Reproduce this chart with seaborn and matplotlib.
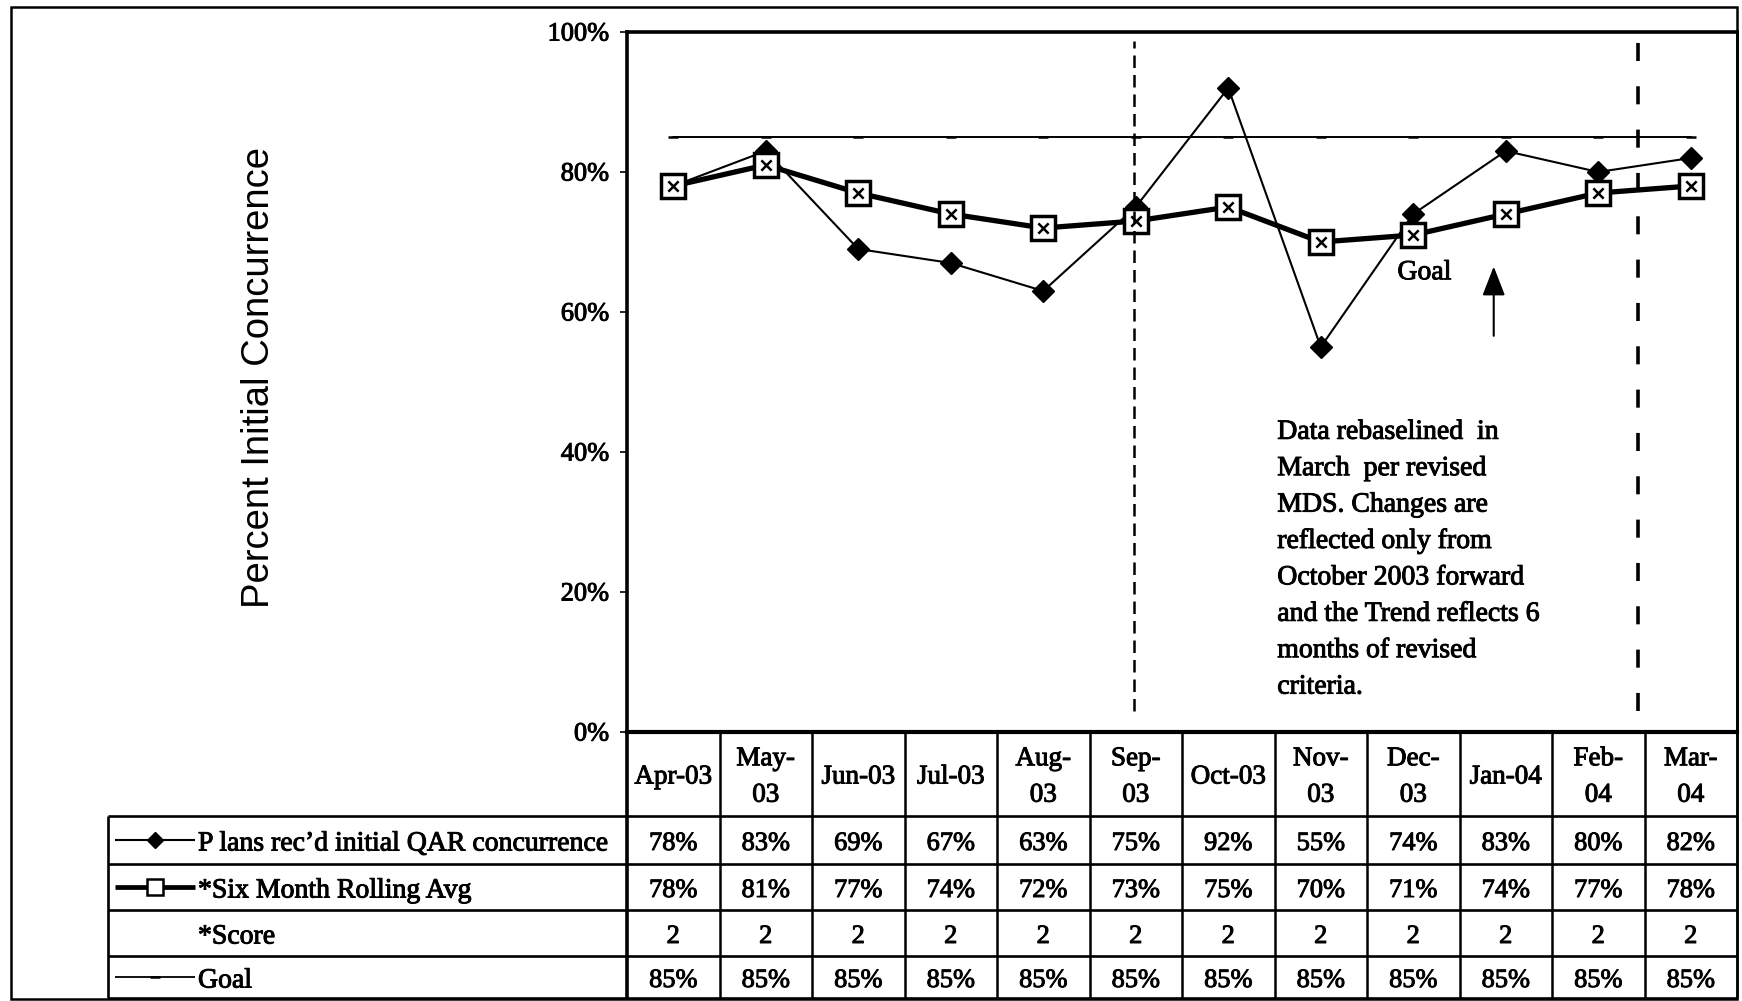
import matplotlib
matplotlib.use("Agg")
import matplotlib.pyplot as plt
from matplotlib.patches import Rectangle, FancyArrowPatch
from matplotlib import patheffects
import seaborn as sns
import pandas as pd

# ---- data -------------------------------------------------------------
months = ["Apr-03", "May-03", "Jun-03", "Jul-03", "Aug-03", "Sep-03",
          "Oct-03", "Nov-03", "Dec-03", "Jan-04", "Feb-04", "Mar-04"]
month_headers = ["Apr-03", "May-\n03", "Jun-03", "Jul-03", "Aug-\n03", "Sep-\n03",
                 "Oct-03", "Nov-\n03", "Dec-\n03", "Jan-04", "Feb-\n04", "Mar-\n04"]
plans_concurrence = [78, 83, 69, 67, 63, 75, 92, 55, 74, 83, 80, 82]
rolling_avg = [78, 81, 77, 74, 72, 73, 75, 70, 71, 74, 77, 78]
score = [2, 2, 2, 2, 2, 2, 2, 2, 2, 2, 2, 2]
goal = [85, 85, 85, 85, 85, 85, 85, 85, 85, 85, 85, 85]
y_ticks = [0, 20, 40, 60, 80, 100]
series_names = ["P lans rec\u2019d initial QAR concurrence", "*Six Month Rolling Avg",
                "*Score", "Goal"]
y_title = "Percent Initial Concurrence"
note_text = ("Data rebaselined  in\nMarch  per revised\nMDS. Changes are\n"
             "reflected only from\nOctober 2003 forward\nand the Trend reflects 6\n"
             "months of revised\ncriteria.")

# ---- style ------------------------------------------------------------
sns.set_theme(style="white")
plt.rcParams["font.family"] = ["Liberation Serif", "DejaVu Serif"]
plt.rcParams["axes.edgecolor"] = "black"
plt.rcParams["text.color"] = "black"
plt.rcParams["ytick.color"] = "black"

W, H = 1742, 1001
fig = plt.figure(figsize=(W / 100, H / 100), dpi=100)
fig.patch.set_facecolor("white")


def fx(px):
    return px / W


def fy(py):
    return 1 - py / H


# plot box in pixels
L, R, T, B = 627, 1737, 32, 732
TABLE_LEFT, TABLE_BOTTOM = 108, 999
col_w = (R - L) / len(months)

ax = fig.add_axes([fx(L), fy(B), fx(R) - fx(L), fy(T) - fy(B)])

df = pd.DataFrame({
    "month": range(len(months)),
    "plans": plans_concurrence,
    "rolling": rolling_avg,
    "goal": goal,
})

sns.lineplot(data=df, x="month", y="goal", ax=ax, color="black", linewidth=1.4,
             marker="_", markersize=7, mew=1.8, mec="black")
sns.lineplot(data=df, x="month", y="plans", ax=ax, color="black", linewidth=1.5,
             marker="D", markersize=11, mec="black", mew=1)
sns.lineplot(data=df, x="month", y="rolling", ax=ax, color="black", linewidth=3.8,
             marker="s", markersize=17, mfc="white", mec="black", mew=2.5)
sns.scatterplot(data=df, x="month", y="rolling", ax=ax, marker="x", s=55,
                color="black", linewidth=1.8, zorder=5)

ax.set_xlim(-0.5, len(months) - 0.5)
ax.set_ylim(0, 100)
ax.set_xticks([])
ax.set_yticks(y_ticks)
ax.set_yticklabels([f"{v}%" for v in y_ticks], fontsize=19)
ax.set_xlabel("")
ax.set_ylabel("")
ax.tick_params(axis="y", left=True, direction="out", length=5, width=1.2, pad=8)
for side, lw in [("left", 2.6), ("bottom", 3.0), ("top", 2.6), ("right", 2.0)]:
    ax.spines[side].set_visible(True)
    ax.spines[side].set_linewidth(lw)
    ax.spines[side].set_color("black")

# rebaseline markers
ax.axvline(4.98, ymin=0.03, ymax=0.987, color="black", lw=1.8, dashes=(5, 2.8))
ax.axvline(10.43, ymin=0.03, ymax=0.987, color="black", lw=2.6, dashes=(5, 7))

# goal arrow and notes
ax.add_patch(FancyArrowPatch((8.87, 56.2), (8.87, 66.9),
                             arrowstyle="-|>,head_length=0.9,head_width=0.35",
                             mutation_scale=20, lw=1.5, color="black"))
ax.text(8.12, 65.6, "Goal", ha="center", va="center", fontsize=20)
ax.text(6.53, 44.6, note_text, ha="left", va="top", fontsize=20, linespacing=1.6)

ytitle = fig.text(fx(259), fy(378), y_title, rotation=90, ha="center", va="center",
                  fontsize=27.5, family="Liberation Sans")

# ---- data table -------------------------------------------------------
tab = fig.add_axes([fx(TABLE_LEFT), fy(TABLE_BOTTOM), fx(R) - fx(TABLE_LEFT),
                    fy(B) - fy(TABLE_BOTTOM)])
x_left = -0.5 - (L - TABLE_LEFT) / col_w
tab.set_xlim(x_left, len(months) - 0.5)
tab.set_ylim(TABLE_BOTTOM, B)
tab.axis("off")

row_edges = [732, 816, 864, 910, 956, 998]
lk = dict(color="black", clip_on=False, solid_capstyle="butt")

for k in range(len(months) + 1):
    tab.plot([k - 0.5, k - 0.5], [row_edges[0], row_edges[-1]],
             lw=2.6 if k == 0 else 1.8, **lk)
for y in row_edges[1:]:
    tab.plot([x_left, len(months) - 0.5], [y, y], lw=1.9, **lk)
tab.plot([x_left, x_left], [row_edges[1], row_edges[-1]], lw=1.9, **lk)

hdr_y = (row_edges[0] + row_edges[1]) / 2 + 3
for i, lab in enumerate(month_headers):
    tab.text(i, hdr_y, lab, ha="center", va="center", fontsize=19.5, linespacing=1.6)

row_values = [
    [f"{v}%" for v in plans_concurrence],
    [f"{v}%" for v in rolling_avg],
    [str(v) for v in score],
    [f"{v}%" for v in goal],
]
text_x = -0.5 - (L - 198) / col_w
sym_x0 = -0.5 - (L - 115) / col_w
sym_x1 = -0.5 - (L - 195) / col_w
sym_xm = (sym_x0 + sym_x1) / 2
for r, (name, vals) in enumerate(zip(series_names, row_values)):
    yc = (row_edges[r + 1] + row_edges[r + 2]) / 2 + 4
    for i, s in enumerate(vals):
        tab.text(i, yc, s, ha="center", va="center", fontsize=19)
    tab.text(text_x, yc, name, ha="left", va="center", fontsize=20)
    ys = yc - 4
    if r == 0:
        tab.plot([sym_x0, sym_x1], [ys, ys], lw=1.5, **lk)
        tab.plot([sym_xm], [ys], marker="D", ms=8, color="black", clip_on=False)
    elif r == 1:
        tab.plot([sym_x0, sym_x1], [ys, ys], lw=3.4, **lk)
        tab.plot([sym_xm], [ys], marker="s", ms=11, mfc="white", mec="black",
                 mew=1.8, clip_on=False)
    elif r == 3:
        tab.plot([sym_x0, sym_x1], [ys, ys], lw=1.3, **lk)
        tab.plot([sym_xm], [ys], marker="_", ms=7, mew=1.8, color="black", clip_on=False)

# outer frame
fig.add_artist(Rectangle((fx(11), fy(999)), fx(1737) - fx(11), fy(7) - fy(999),
                         fill=False, lw=1.8, ec="black", transform=fig.transFigure))

# heavier strokes for the serif lettering
heavy = [patheffects.withStroke(linewidth=0.7, foreground="black")]
for t in fig.findobj(matplotlib.text.Text):
    if t is not ytitle and t.get_text():
        t.set_path_effects(heavy)

fig.savefig("out.png", dpi=100, facecolor="white")
